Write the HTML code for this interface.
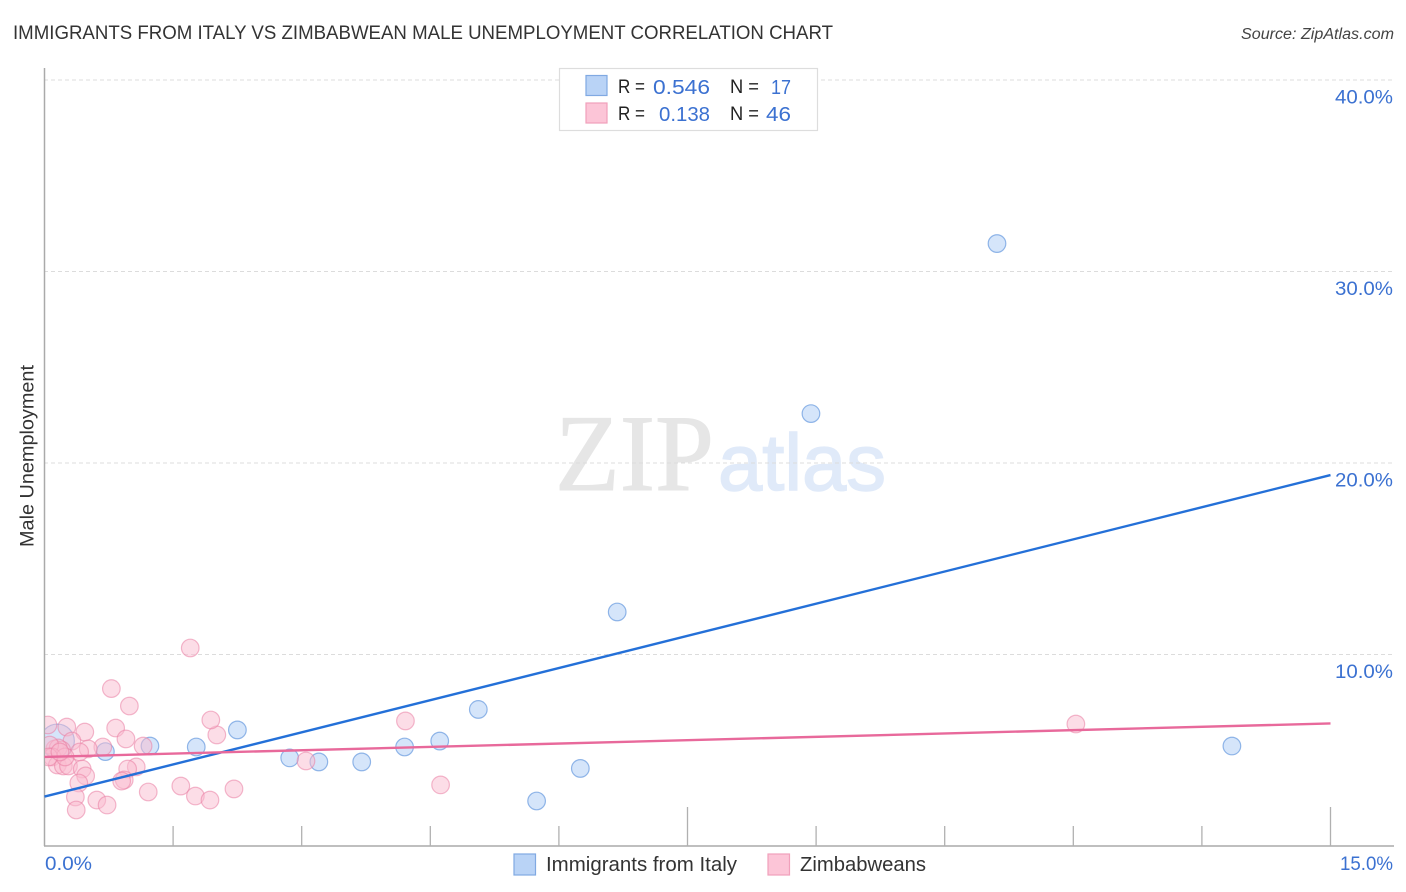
<!DOCTYPE html>
<html lang="en">
<head>
<meta charset="utf-8">
<title>Immigrants from Italy vs Zimbabwean Male Unemployment Correlation Chart</title>
<style>
html,body{margin:0;padding:0;background:#fff;width:1406px;height:892px;overflow:hidden}
svg{display:block;font-family:"Liberation Sans",sans-serif}
</style>
</head>
<body>
<svg id="chart" width="1406" height="892" viewBox="0 0 1406 892" xmlns="http://www.w3.org/2000/svg">
  <defs>
    <clipPath id="plot-clip"><rect x="45" y="60" width="1349" height="786"/></clipPath>
  </defs>
  <text x="13" y="39" font-size="19.5" fill="#333" textLength="820" lengthAdjust="spacingAndGlyphs">IMMIGRANTS FROM ITALY VS ZIMBABWEAN MALE UNEMPLOYMENT CORRELATION CHART</text>
  <text x="1241" y="39" font-size="15.5" font-style="italic" fill="#444" textLength="153" lengthAdjust="spacingAndGlyphs">Source: ZipAtlas.com</text>

  <g id="watermark">
    <text x="555" y="490" font-family="'Liberation Serif',serif" font-size="109" fill="#e6e6e6" stroke="#e6e6e6" stroke-width="1" textLength="159" lengthAdjust="spacingAndGlyphs">ZIP</text>
    <text x="718" y="490" font-family="'Liberation Sans',sans-serif" font-size="80" fill="#e0eaf9" stroke="#e0eaf9" stroke-width="1.5" textLength="168" lengthAdjust="spacingAndGlyphs">atlas</text>
  </g>

  <g id="grid"></g>
  <g id="axes"></g>
  <g id="points-blue" clip-path="url(#plot-clip)"></g>
  <g id="points-pink" clip-path="url(#plot-clip)"></g>
  <g id="trends"></g>
  <g id="ytick-labels" font-size="19" fill="#3b71d1"></g>
  <g id="xtick-labels" font-size="19" fill="#3b71d1"></g>

  <text transform="translate(33.5,547) rotate(-90)" x="0" y="0" font-size="19" fill="#333" textLength="182" lengthAdjust="spacingAndGlyphs">Male Unemployment</text>

  <g>
    <rect x="559.5" y="68.5" width="258" height="62" fill="#fff" stroke="#ddd" stroke-width="1.2"/>
    <rect x="586" y="75.5" width="21" height="20" fill="#b9d3f6" stroke="#80a9e2" stroke-width="1.2"/>
    <rect x="586" y="103" width="21" height="20" fill="#fcc5d7" stroke="#f1a0bb" stroke-width="1.2"/>
    <text x="618" y="93" font-size="19" fill="#222" textLength="27" lengthAdjust="spacingAndGlyphs">R =</text>
    <text x="653" y="94" font-size="20.5" fill="#3b71d1" textLength="57" lengthAdjust="spacingAndGlyphs">0.546</text>
    <text x="730" y="93" font-size="19" fill="#222" textLength="29" lengthAdjust="spacingAndGlyphs">N =</text>
    <text x="771" y="94" font-size="20.5" fill="#3b71d1" textLength="20" lengthAdjust="spacingAndGlyphs">17</text>
    <text x="618" y="120" font-size="19" fill="#222" textLength="27" lengthAdjust="spacingAndGlyphs">R =</text>
    <text x="659" y="121" font-size="20.5" fill="#3b71d1" textLength="51" lengthAdjust="spacingAndGlyphs">0.138</text>
    <text x="730" y="120" font-size="19" fill="#222" textLength="29" lengthAdjust="spacingAndGlyphs">N =</text>
    <text x="766" y="121" font-size="20.5" fill="#3b71d1" textLength="25" lengthAdjust="spacingAndGlyphs">46</text>
  </g>

  <g>
    <rect x="514" y="854" width="21.5" height="21" fill="#b9d3f6" stroke="#80a9e2" stroke-width="1.2"/>
    <text x="546" y="871" font-size="20" fill="#333" textLength="191" lengthAdjust="spacingAndGlyphs">Immigrants from Italy</text>
    <rect x="768" y="854" width="21.5" height="21" fill="#fcc5d7" stroke="#f1a0bb" stroke-width="1.2"/>
    <text x="800" y="871" font-size="20" fill="#333" textLength="126" lengthAdjust="spacingAndGlyphs">Zimbabweans</text>
  </g>
</svg>
<script>
const blueX = [11.11, 8.94, 6.68, 5.06, 2.25, 4.61, 4.20, 1.77, 1.23, 0.71, 2.86, 3.20, 3.70, 6.25, 5.74, 13.85, 0.15];
const blueY = [31.46, 22.58, 12.22, 7.13, 6.06, 5.48, 5.17, 5.17, 5.22, 4.93, 4.60, 4.39, 4.39, 4.05, 2.35, 5.22, 5.48];
const pinkX = [1.70, 0.78, 0.99, 0.04, 0.26, 0.83, 0.47, 0.95, 2.01, 1.94, 4.21, 12.03, 0.32, 1.15, 0.68, 0.51, 0.41, 0.12, 0.20, 0.16, 0.06, 0.09, 0.15, 0.22, 0.28, 0.24, 1.07, 0.97, 0.44, 0.48, 0.40, 0.93, 0.90, 3.05, 1.59, 4.62, 2.21, 1.21, 0.36, 0.61, 1.76, 1.93, 0.73, 0.37, 0.05, 0.18];
const pinkY = [10.34, 8.22, 7.31, 6.32, 6.21, 6.16, 5.95, 5.59, 5.80, 6.58, 6.53, 6.37, 5.48, 5.22, 5.17, 5.07, 4.91, 5.07, 5.01, 5.12, 5.27, 4.65, 4.23, 4.18, 4.18, 4.65, 4.13, 4.02, 4.02, 3.66, 3.29, 3.45, 3.39, 4.44, 3.13, 3.19, 2.98, 2.82, 2.56, 2.40, 2.61, 2.40, 2.14, 1.88, 4.65, 4.91];
const trendX = [0, 15];
const blueTrendY = [2.58, 19.37];
const pinkTrendY = [4.65, 6.40];
const yTicks = [10, 20, 30, 40];
const yTickLabels = ["10.0%", "20.0%", "30.0%", "40.0%"];
const xTicks = [1.5, 3, 4.5, 6, 7.5, 9, 10.5, 12, 13.5, 15];
const xMajorTicks = [7.5, 15];
const xEndTicks = [0, 15];
const xEndLabels = ["0.0%", "15.0%"];
const largePointIndex = 16;

const NS = "http://www.w3.org/2000/svg";
function sx(v) { return 44.5 + v * (1330.5 - 44.5) / 15; }
function sy(v) { return 846 - v * (846 - 80) / 40; }
function mk(parentId, tag, attrs) {
  const el = document.createElementNS(NS, tag);
  Object.keys(attrs).forEach(function (k) { el.setAttribute(k, attrs[k]); });
  document.getElementById(parentId).appendChild(el);
  return el;
}

yTicks.forEach(function (v, i) {
  const grid = mk("grid", "line", { x1: 44, x2: 1394, y1: sy(v), y2: sy(v), stroke: "#dcdcdc", "stroke-width": 1, "stroke-dasharray": "4 3" });
  
  
  const label = mk("ytick-labels", "text", { x: 1335, y: sy(v) + 23.5, textLength: 58, lengthAdjust: "spacingAndGlyphs" });
  label.textContent = yTickLabels[i];
  
  
});

const yAxis = mk("axes", "line", { x1: 44.5, x2: 44.5, y1: 68, y2: 846, stroke: "#aaa", "stroke-width": 1.5 });


const xAxis = mk("axes", "line", { x1: 44, x2: 1394, y1: 846, y2: 846, stroke: "#aaa", "stroke-width": 1.5 });



xTicks.forEach(function (v) {
  const top = xMajorTicks.indexOf(v) >= 0 ? 807 : 826;
  const tick = mk("axes", "line", { x1: sx(v), x2: sx(v), y1: top, y2: 846, stroke: "#b0b0b0", "stroke-width": 1.3 });
  
  
});

xEndTicks.forEach(function (v, i) {
  const label = mk("xtick-labels", "text", v === 0
    ? { x: 45, y: 870, textLength: 47, lengthAdjust: "spacingAndGlyphs" }
    : { x: 1340, y: 870, textLength: 53, lengthAdjust: "spacingAndGlyphs" });
  label.textContent = xEndLabels[i];
  
  
});

blueX.forEach(function (v, i) {
  const big = i === largePointIndex;
  const dot = mk("points-blue", "circle", { cx: sx(v), cy: sy(blueY[i]), r: big ? 17 : 8.8, fill: "#b9d3f6", "fill-opacity": 0.6, stroke: "#6f9fe0", "stroke-opacity": 0.75, "stroke-width": 1.2 });
  
  
});

pinkX.forEach(function (v, i) {
  const dot = mk("points-pink", "circle", { cx: sx(v), cy: sy(pinkY[i]), r: 8.8, fill: "#f9bcd0", "fill-opacity": 0.5, stroke: "#ea7fa4", "stroke-opacity": 0.55, "stroke-width": 1.2 });
  
  
});

const blueTrend = mk("trends", "line", { x1: sx(trendX[0]), x2: sx(trendX[1]), y1: sy(blueTrendY[0]), y2: sy(blueTrendY[1]), stroke: "#2470d8", "stroke-width": 2.4 });


const pinkTrend = mk("trends", "line", { x1: sx(trendX[0]), x2: sx(trendX[1]), y1: sy(pinkTrendY[0]), y2: sy(pinkTrendY[1]), stroke: "#e8699b", "stroke-width": 2.4 });


</script>
</body>
</html>
